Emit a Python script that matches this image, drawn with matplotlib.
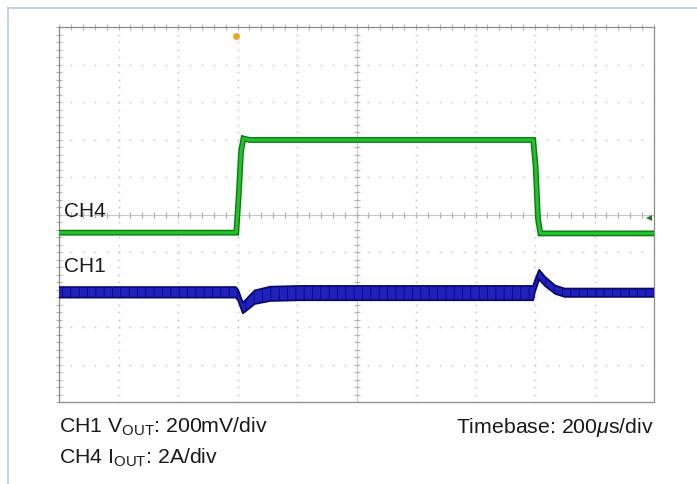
import matplotlib
matplotlib.use("Agg")
import matplotlib.pyplot as plt
from matplotlib.lines import Line2D
import numpy as np

plt.rcParams['font.family'] = ['Liberation Sans', 'DejaVu Sans']
plt.rcParams['mathtext.fontset'] = 'custom'
plt.rcParams['mathtext.rm'] = 'Liberation Sans'
plt.rcParams['mathtext.it'] = 'Liberation Sans:italic'
plt.rcParams['hatch.linewidth'] = 0.7

# ---- data (screen divisions: x 0..10, y 0..10) ----
ch4_t = [0, 2.98, 3.02, 3.06, 3.10, 3.20, 7.97, 8.01, 8.05, 8.09, 10]
ch4_y = [4.52, 4.52, 5.50, 6.70, 7.03, 6.99, 6.99, 6.30, 4.90, 4.50, 4.50]

ch1_t = [0, 2.97, 3.01, 3.09, 3.18, 3.29, 3.55, 4.05, 7.97, 8.00, 8.07, 8.17, 8.34, 8.50, 10]
ch1_mid = [2.93, 2.93, 2.86, 2.51, 2.64, 2.80, 2.89, 2.91, 2.91, 3.10, 3.40, 3.22, 3.00, 2.92, 2.92]
ch1_half = [0.14, 0.14, 0.14, 0.14, 0.16, 0.18, 0.19, 0.19, 0.19, 0.15, 0.13, 0.12, 0.11, 0.11, 0.11]

trigger_t = 3.0
ch4_marker_y = 4.9

labels_ch = ["CH4", "CH1"]
label_pos = [(0.08, 4.96), (0.08, 3.49)]
caption_left = [r"CH1 V$_{\mathrm{OUT}}$: 200mV/div", r"CH4 I$_{\mathrm{OUT}}$: 2A/div"]
caption_right = "Timebase: 200$\\mu$s/div"

W, H = 697, 485
fig = plt.figure(figsize=(W / 100, H / 100), dpi=100)
fig.patch.set_facecolor('white')

# outer frame (top + left)
frame_col = '#b9c9d5'
fig.add_artist(Line2D([8 / W, 1], [1 - 9 / H, 1 - 9 / H], color=frame_col, lw=1.2, transform=fig.transFigure))
fig.add_artist(Line2D([8 / W, 8 / W], [0, 1 - 9 / H], color=frame_col, lw=1.2, transform=fig.transFigure))

ax = fig.add_axes([59 / W, (H - 403.3) / H, 595 / W, 375.3 / H])
ax.set_xlim(0, 10)
ax.set_ylim(0, 10)
ax.set_xticks([])
ax.set_yticks([])
for s in ax.spines.values():
    s.set_color('#8c8c8c')
    s.set_linewidth(0.9)

# graticule
dot_col = '#c4c4c4'
minor = np.arange(0, 10.001, 0.2)
for k in range(1, 10):
    if k == 5:
        continue
    ax.plot(np.full_like(minor, k), minor, ls='none', marker='s', ms=1.1, color=dot_col, mew=0)
    ax.plot(minor, np.full_like(minor, k), ls='none', marker='s', ms=1.1, color=dot_col, mew=0)
# center lines with tick marks
ax.axhline(5, color='#c8c8c8', lw=0.8)
ax.axvline(5, color='#c8c8c8', lw=0.8)
ax.plot(minor, np.full_like(minor, 5), ls='none', marker='|', ms=4, color='#b4b4b4', mew=0.9)
ax.plot(np.full_like(minor, 5), minor, ls='none', marker='_', ms=4, color='#b4b4b4', mew=0.9)
# edge ticks
ax.plot(minor, np.full_like(minor, 10), ls='none', marker='|', ms=4, color='#b4b4b4', mew=0.8, clip_on=False)
ax.plot(np.full_like(minor, 0), minor, ls='none', marker='_', ms=4, color='#b4b4b4', mew=0.8, clip_on=False)

# CH4 trace (green)
ax.plot(ch4_t, ch4_y, color='#0d7a14', lw=4.2, solid_joinstyle='miter', zorder=3)
ax.plot(ch4_t, ch4_y, color='#22c32a', lw=2.2, zorder=4)

# CH1 trace (blue band)
lo = np.array(ch1_mid) - np.array(ch1_half)
hi = np.array(ch1_mid) + np.array(ch1_half)
ax.fill_between(ch1_t, lo, hi, facecolor='#2020bc', edgecolor='#0c0c78', hatch='||', lw=0, zorder=3)
ax.plot(ch1_t, lo, color='#0a0a6e', lw=1.3, zorder=4)
ax.plot(ch1_t, hi, color='#0a0a6e', lw=1.3, zorder=4)

# markers
ax.plot([trigger_t - 0.03], [9.75], marker='o', ms=5, color='#f2a22c', mew=0, clip_on=False, zorder=5)
ax.plot([9.92], [ch4_marker_y], marker='<', ms=4, color='#1c7a24', mew=0, zorder=5)

# channel labels
for lab, (x, y) in zip(labels_ch, label_pos):
    ax.text(x, y, lab, fontsize=15, color='#1a1a1a', va='baseline', ha='left', zorder=6)

# captions
fs = 15.3
fig.text(59 / W, 1 - 433 / H, caption_left[0], fontsize=fs, color='#1a1a1a', va='baseline', ha='left')
fig.text(59 / W, 1 - 464 / H, caption_left[1], fontsize=fs, color='#1a1a1a', va='baseline', ha='left')
fig.text(654 / W, 1 - 433 / H, caption_right, fontsize=fs, color='#1a1a1a', va='baseline', ha='right')

fig.savefig('out.png', dpi=100, facecolor='white')
